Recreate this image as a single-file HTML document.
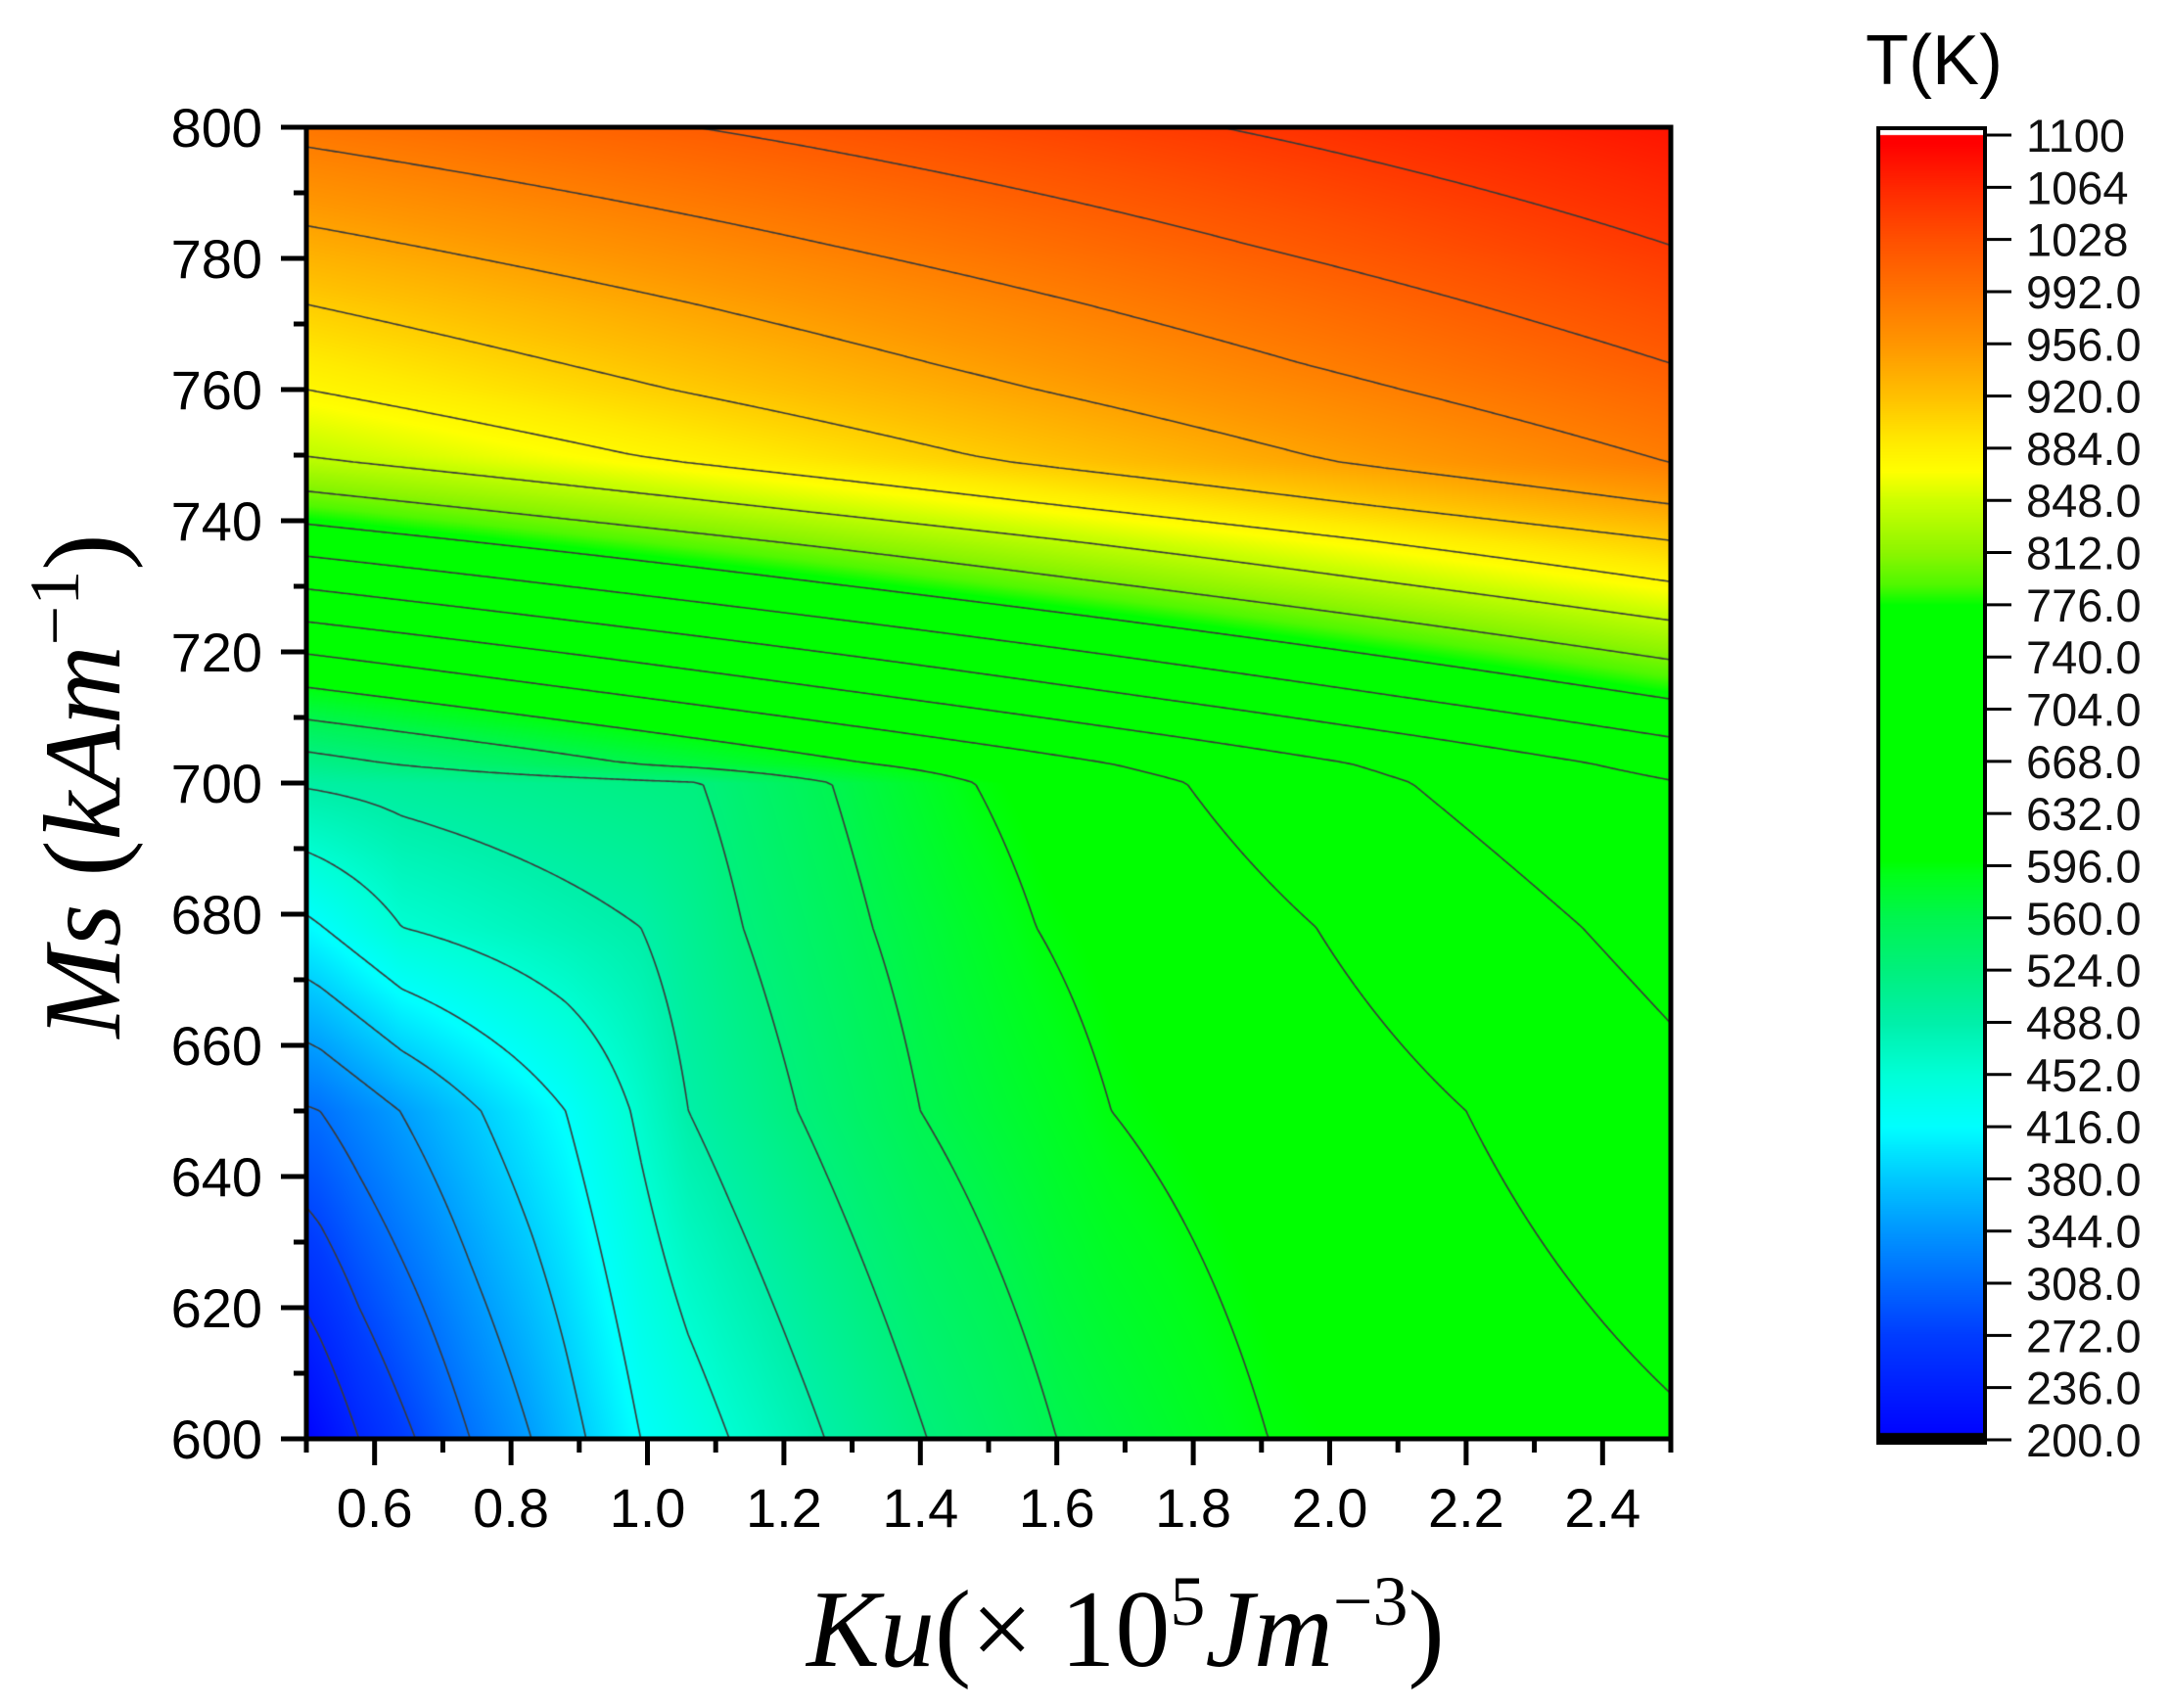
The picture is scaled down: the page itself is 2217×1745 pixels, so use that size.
<!DOCTYPE html>
<html><head><meta charset="utf-8">
<style>
html,body{margin:0;padding:0;background:#fff;}
#wrap{position:relative;width:2217px;height:1745px;overflow:hidden;background:#fff;}
canvas,svg{position:absolute;left:0;top:0;}
</style></head>
<body><div id="wrap">
<canvas id="plot" style="left:313px;top:130px" width="1394" height="1340"></canvas>
<canvas id="cbar" style="left:1919px;top:131px" width="109" height="1343"></canvas>
<svg width="2217" height="1745" xmlns="http://www.w3.org/2000/svg" font-family="Liberation Sans, sans-serif">
<g id="axes" stroke="#000" stroke-width="5" fill="none">
<rect x="313" y="130" width="1394" height="1340"/>
</g>
<g id="ticks" stroke="#000" stroke-width="5"></g>
<g id="labels" font-size="56" fill="#000"></g>
<rect x="1919" y="131" width="109" height="1343" fill="none" stroke="#000" stroke-width="4"/>
<g id="cticks" stroke="#000" stroke-width="3"></g>
<g id="clabels" font-size="47" fill="#111"></g>
<text x="1906" y="86" font-size="72" fill="#000">T(K)</text>
<text transform="translate(122,803) rotate(-90)" text-anchor="middle" font-family="Liberation Serif, serif" font-size="112" fill="#000"><tspan font-style="italic">Ms</tspan> (<tspan font-style="italic">kAm</tspan><tspan dy="-42" font-size="72">−1</tspan><tspan dy="42">)</tspan></text>
<text x="1150" y="1702" text-anchor="middle" font-family="Liberation Serif, serif" font-size="112" fill="#000"><tspan font-style="italic">Ku</tspan>(× 10<tspan dy="-42" font-size="72">5</tspan><tspan dy="42" font-style="italic">Jm</tspan><tspan dy="-42" font-size="72">−3</tspan><tspan dy="42">)</tspan></text>
</svg>
</div>
<script>
function interp(pts,x){
  if(x<=pts[0][0])return pts[0][1];
  for(var i=1;i<pts.length;i++){ if(x<=pts[i][0]){var a=pts[i-1],b=pts[i];var t=(x-a[0])/(b[0]-a[0]);return a[1]+t*(b[1]-a[1]);} }
  return pts[pts.length-1][1];
}
var L=[[600,203],[617,245],[635,280],[651.6,315],[661,350],[670.6,385],[680,420],[689.6,455],[699.4,490],[704.8,525],[709.7,560],[714.6,595],[719.7,630],[724.6,665],[729.6,700],[734.6,735],[739.5,770],[744.5,805],[749.7,840],[760,875],[773,910],[785,945],[797,980],[800,989]];
var R=[[600,626],[606,630],[668,665],[701,700],[707,735],[712.8,770],[718.8,805],[724.8,840],[730.7,875],[737,910],[742.5,945],[748.8,980],[764,1015],[782,1050],[800,1080]];
var rows=[
[600,[[0.5,203],[0.577,245],[0.66,280],[0.74,315],[0.83,350],[0.91,385],[0.99,420],[1.12,455],[1.26,490],[1.41,525],[1.6,560],[1.91,595],[2.5,626]]],
[650,[[0.5,312],[0.52,315],[0.637,350],[0.756,385],[0.88,420],[0.975,455],[1.06,490],[1.22,525],[1.40,560],[1.68,595],[2.2,630],[2.5,655]]],
[678,[[0.5,413],[0.525,420],[0.64,455],[0.99,490],[1.14,525],[1.33,560],[1.57,595],[1.98,630],[2.37,665],[2.5,676]]],
[700,[[0.5,493],[1.07,523],[1.27,560],[1.48,595],[1.79,630],[2.12,665],[2.5,698]]]
];
for(var m=703;m<=800;m+=1){rows.push([m,[[0.5,interp(L,m)],[2.5,interp(R,m)]]]);}
function field(K,M){
  if(M<=rows[0][0])return interp(rows[0][1],K);
  for(var i=1;i<rows.length;i++){ if(M<=rows[i][0]){var a=rows[i-1],b=rows[i];var t=(M-a[0])/(b[0]-a[0]);return interp(a[1],K)*(1-t)+interp(b[1],K)*t;} }
  return interp(rows[rows.length-1][1],K);
}
var cm=[[200,0,0,255],[272,0,60,255],[308,0,105,255],[344,0,150,255],[380,0,200,255],[416,0,255,255],[452,0,255,215],[488,0,240,170],[524,0,240,125],[560,0,245,80],[590,0,255,25],[600,0,255,0],[776,0,255,0],[790,80,248,0],[812,140,245,0],[848,205,255,0],[868,255,255,0],[888,255,235,0],[920,255,192,0],[956,255,150,0],[992,255,115,0],[1028,255,80,0],[1064,255,40,0],[1095,255,0,0],[1100,255,0,0]];
function col(T){
  if(T<=cm[0][0])return [0,0,255];
  for(var i=1;i<cm.length;i++){ if(T<=cm[i][0]){var a=cm[i-1],b=cm[i];var t=(T-a[0])/(b[0]-a[0]);return [a[1]+t*(b[1]-a[1]),a[2]+t*(b[2]-a[2]),a[3]+t*(b[3]-a[3])];} }
  return [255,0,0];
}
var W=1394,H=1340,xs=697,ys=6.7;
var c=document.getElementById('plot').getContext('2d');
var img=c.createImageData(W,H);
for(var y=0;y<H;y++){var M=800-y/ys;for(var x=0;x<W;x++){var K=0.5+x/xs;var k=col(field(K,M));var p=(y*W+x)*4;img.data[p]=k[0];img.data[p+1]=k[1];img.data[p+2]=k[2];img.data[p+3]=255;}}
c.putImageData(img,0,0);
var st=3,nx=Math.ceil(W/st)+1,ny=Math.ceil(H/st)+1,g=[];
for(var j=0;j<ny;j++){g[j]=[];for(var i=0;i<nx;i++){g[j][i]=field(0.5+i*st/xs,800-j*st/ys);}}
c.strokeStyle='#3a3a3a';c.lineWidth=1.6;c.beginPath();
for(var lv=245;lv<1090;lv+=35){
 for(var j=0;j<ny-1;j++)for(var i=0;i<nx-1;i++){
  var v=[g[j][i],g[j][i+1],g[j+1][i+1],g[j+1][i]];
  var P=[[i*st,j*st],[(i+1)*st,j*st],[(i+1)*st,(j+1)*st],[i*st,(j+1)*st]];
  var pts=[];
  for(var e=0;e<4;e++){var a=v[e],b=v[(e+1)%4];if((a<lv)!=(b<lv)){var t=(lv-a)/(b-a);var A=P[e],B=P[(e+1)%4];pts.push([A[0]+t*(B[0]-A[0]),A[1]+t*(B[1]-A[1])]);}}
  if(pts.length>=2){c.moveTo(pts[0][0],pts[0][1]);c.lineTo(pts[1][0],pts[1][1]);}
  if(pts.length==4){c.moveTo(pts[2][0],pts[2][1]);c.lineTo(pts[3][0],pts[3][1]);}
 }
}
c.stroke();
var cb=document.getElementById('cbar').getContext('2d');
cb.fillStyle='#fff';cb.fillRect(0,0,109,1343);
for(var yy=7;yy<1333;yy++){var T=1100-(yy+131-138)*36/53.32;var k=col(T);cb.fillStyle='rgb('+Math.round(k[0])+','+Math.round(k[1])+','+Math.round(k[2])+')';cb.fillRect(0,yy,109,1);}
cb.fillStyle='#000';cb.fillRect(0,1333,109,10);
var NS='http://www.w3.org/2000/svg';
function el(p,n,a,txt){var e=document.createElementNS(NS,n);for(var k in a)e.setAttribute(k,a[k]);if(txt!==undefined)e.textContent=txt;document.getElementById(p).appendChild(e);}
for(var m=600;m<=800;m+=10){var y=130+(800-m)*ys;var maj=(m%20==0);el('ticks','line',{x1:maj?287:300,x2:313,y1:y,y2:y});if(maj)el('labels','text',{x:268,y:y+20,'text-anchor':'end'},String(m));}
for(var i=0;i<=20;i++){var K=0.5+i*0.1;var x=313+(K-0.5)*xs;var maj=(i%2==1);el('ticks','line',{x1:x,x2:x,y1:1470,y2:maj?1497:1484});if(maj)el('labels','text',{x:x,y:1560,'text-anchor':'middle'},K.toFixed(1));}
for(var i=0;i<=25;i++){var T=1100-36*i;var y=138+i*53.32;el('cticks','line',{x1:2028,x2:2055,y1:y,y2:y});el('clabels','text',{x:2070,y:y+17},T>=1000?String(T):T.toFixed(1));}
</script>
</body></html>
